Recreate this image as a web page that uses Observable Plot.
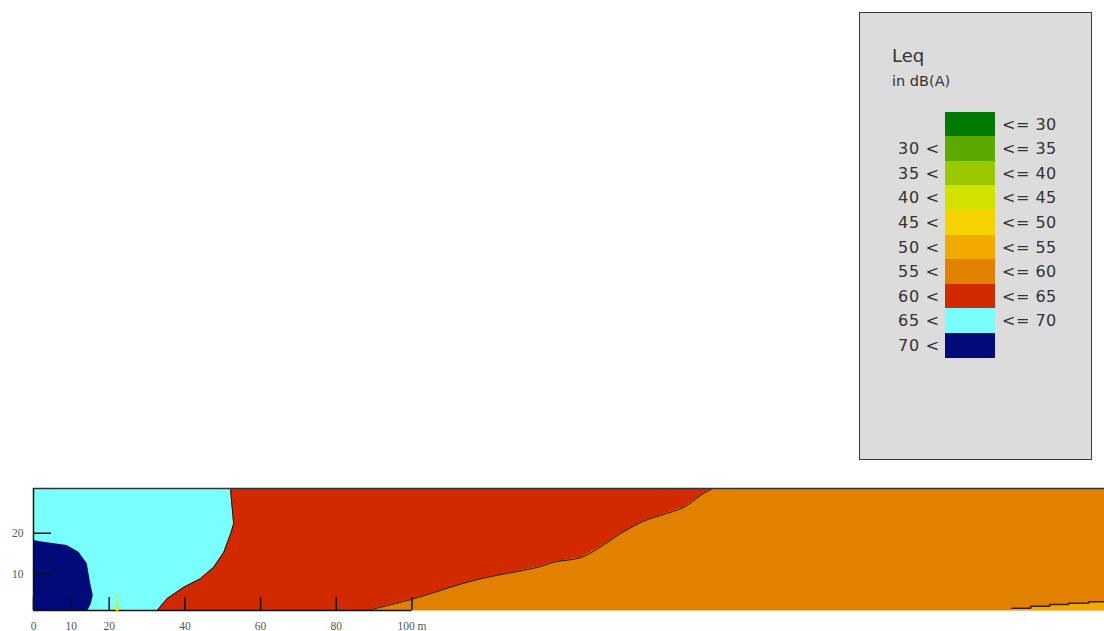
<!DOCTYPE html>
<html><head><meta charset="utf-8">
<script src="https://cdn.jsdelivr.net/npm/d3@7"></script>
<script src="https://cdn.jsdelivr.net/npm/@observablehq/plot@0.6"></script>
<style>
body{margin:0;background:#fff;}
#wrap{position:relative;width:1104px;height:631px;overflow:hidden;}
#legend{position:absolute;left:859px;top:12px;width:231px;height:446px;background:#dcdcdc;border:1px solid #3a3a3a;font-family:"DejaVu Sans",sans-serif;color:#333;}
#legend .t1{position:absolute;left:32px;top:32px;font-size:18px;}
#legend .t2{position:absolute;left:32px;top:60px;font-size:14.5px;}
#legend .row{position:absolute;left:0;height:25px;width:231px;}
#legend .sw{position:absolute;left:85px;width:50px;height:25px;top:0;}
#legend .lo{position:absolute;right:151px;top:3px;font-size:16px;white-space:pre;letter-spacing:0.8px;}
#legend .hi{position:absolute;left:142px;top:3px;font-size:16px;white-space:pre;letter-spacing:0.5px;}
</style></head><body><div id="wrap"></div>
<script>
// Legend classes (Leq in dB(A))
const bandLow = [null, 30, 35, 40, 45, 50, 55, 60, 65, 70];
const bandHigh = [30, 35, 40, 45, 50, 55, 60, 65, 70, null];
const bandColors = ["#007a00", "#5aaa00", "#9cc800", "#d2e300", "#f5d200", "#f0aa00", "#e28000", "#d22a00", "#7affff", "#000a78"];

// Axis ticks (metres)
const xTicks = [0, 10, 20, 40, 60, 80, 100];
const yTicks = [10, 20];

// 70+ zone (navy) right edge: distance along y, x
const navyY = [18.2, 17.8, 17.0, 15.3, 12.5, 7.6, 4.7, 2.6, 1];
const navyX = [0, 2.7, 8.9, 12.0, 14.2, 15.1, 15.8, 15.3, 14.4];

// 65-70 zone (cyan) right edge
const cyanY = [31, 29.3, 22.3, 19.9, 15.3, 11.6, 8.8, 6.7, 3.9, 1];
const cyanX = [52.1, 52.2, 52.9, 52.1, 50.3, 47.6, 44.1, 39.7, 35.3, 32.7];

// 60-65 zone (red) lower edge
const redX = [0, 88.2, 100.5, 116.4, 134.0, 137.5, 144.6, 149.8, 155.1, 161.3, 165.7, 171.9, 176.3, 179.4];
const redY = [1, 1, 3.9, 8.4, 11.8, 12.9, 14.0, 16.6, 19.9, 23.0, 24.4, 26.4, 29.3, 31];

// 50-55 zone (bottom right) upper edge
const lowX = [258.5, 263.5, 268.5, 273.5, 278.8, 283];
const lowY = [1.57, 2.06, 2.48, 2.8, 3.14, 3.14];

// source marker
const sourceX = [22.1];
const sourceY = [1];

const c55 = bandColors[6], c60 = bandColors[7], c65 = bandColors[8], c70 = bandColors[9], c50 = bandColors[5];

const navy = navyY.map((y, i) => ({y, x: navyX[i]}));
const cyan = cyanY.map((y, i) => ({y, x: cyanX[i]}));
const red = redX.map((x, i) => ({x, y: redY[i]}));
const low = lowX.map((x, i) => ({x, y: lowY[i]}));
const src = sourceX.map((x, i) => ({x, y: sourceY[i]}));

const W = 1104, H = 631, mL = 33, mR = 0, mT = 488, mB = 21;
const plotW = W - mL - mR, plotH = H - mT - mB;
const xDomain = [0, 283], yDomain = [1, 31];

const chart = Plot.plot({
  width: W, height: H,
  marginLeft: mL, marginRight: mR, marginTop: mT, marginBottom: mB,
  x: {domain: xDomain, label: null},
  y: {domain: yDomain, label: null},
  style: {background: "#fff", fontFamily: "Liberation Serif, serif", fontSize: "11.5px", color: "#555", overflow: "visible"},
  marks: [
    Plot.frame({fill: c55, stroke: null}),
    Plot.areaY(red, {x: "x", y1: "y", y2: yDomain[1], fill: c60}),
    Plot.areaY(low, {x: "x", y1: yDomain[0], y2: "y", fill: c50, curve: "step-after"}),
    Plot.areaX(cyan, {y: "y", x1: xDomain[0], x2: "x", fill: c65}),
    Plot.areaX(navy, {y: "y", x1: xDomain[0], x2: "x", fill: c70}),
    Plot.line(red.slice(1), {x: "x", y: "y", stroke: "#1a1a1a", strokeWidth: 1, curve: "catmull-rom"}),
    Plot.line(cyan, {x: "x", y: "y", stroke: "#1a1a1a", strokeWidth: 1}),
    Plot.line(low, {x: "x", y: "y", stroke: "#3a2000", strokeWidth: 1.5, curve: "step-after"}),
    Plot.ruleY([yDomain[1]], {stroke: "#333", strokeWidth: 1.5}),
    Plot.ruleX([xDomain[0]], {stroke: "#111", strokeWidth: 1.5}),
    Plot.ruleY([yDomain[0]], {x1: xTicks[0], x2: xTicks[xTicks.length - 1], stroke: "#111", strokeWidth: 1.5}),
    Plot.tickX(xTicks, {x: d => d, insetTop: plotH - 13, stroke: "#111", strokeWidth: 1.5}),
    Plot.tickY(yTicks, {y: d => d, insetRight: plotW - 18, stroke: "#111", strokeWidth: 1.5}),
    Plot.vector(src, {x: "x", y: "y", rotate: 180, length: 16, anchor: "end", stroke: "#e8e800", strokeWidth: 1.5}),
    Plot.axisX(xTicks, {tickSize: 0, tickPadding: 11, label: null, tickFormat: d => d === 100 ? "100 m" : String(d), fill: "#555"}),
    Plot.axisY(yTicks, {tickSize: 0, tickPadding: 10, label: null, fill: "#555"})
  ]
});

const wrap = document.getElementById("wrap");
wrap.appendChild(chart);

const legend = document.createElement("div");
legend.id = "legend";
legend.innerHTML = '<div class="t1">Leq</div><div class="t2">in dB(A)</div>';
bandColors.forEach((c, i) => {
  const row = document.createElement("div");
  row.className = "row";
  row.style.top = (98.5 + i * 24.6) + "px";
  const sw = document.createElement("div");
  sw.className = "sw"; sw.style.background = c;
  row.appendChild(sw);
  if (bandLow[i] != null) {
    const lo = document.createElement("div"); lo.className = "lo"; lo.textContent = bandLow[i] + " <"; row.appendChild(lo);
  }
  if (bandHigh[i] != null) {
    const hi = document.createElement("div"); hi.className = "hi"; hi.textContent = "<= " + bandHigh[i]; row.appendChild(hi);
  }
  legend.appendChild(row);
});
wrap.appendChild(legend);
</script>
</body></html>
